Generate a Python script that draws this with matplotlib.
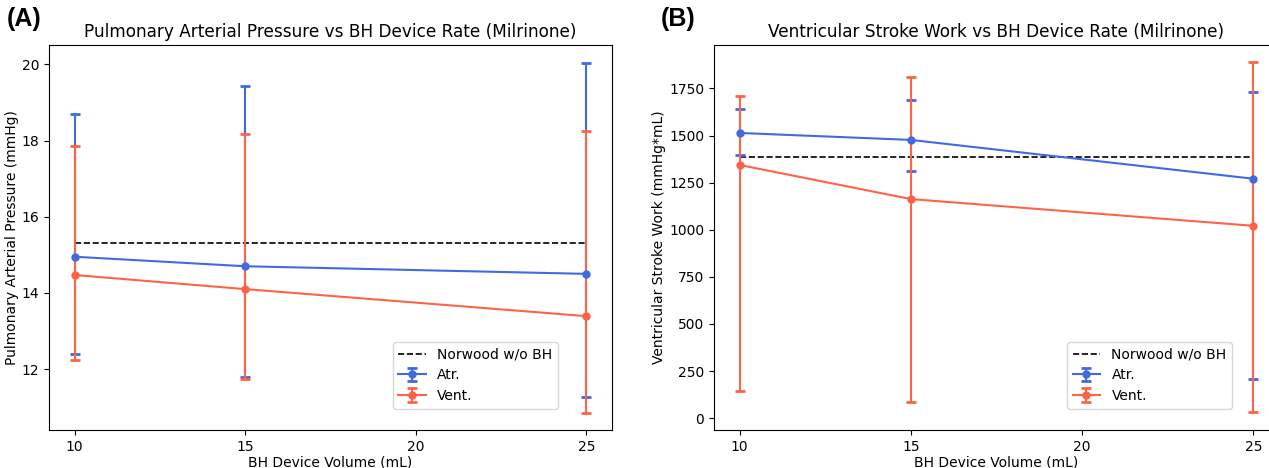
import matplotlib
matplotlib.use("Agg")
import matplotlib.pyplot as plt
import numpy as np

volumes = [10, 15, 25]

# panel A: pulmonary arterial pressure (mmHg)
pap_norwood = 15.30
pap_atr = [14.95, 14.70, 14.50]
pap_atr_lo = [12.40, 11.79, 11.28]
pap_atr_hi = [18.70, 19.44, 20.05]
pap_vent = [14.47, 14.10, 13.39]
pap_vent_lo = [12.23, 11.74, 10.86]
pap_vent_hi = [17.87, 18.18, 18.26]

# panel B: ventricular stroke work (mmHg*mL)
vsw_norwood = 1387
vsw_atr = [1514, 1477, 1271]
vsw_atr_lo = [1397, 1312, 206]
vsw_atr_hi = [1642, 1690, 1729]
vsw_vent = [1344, 1163, 1021]
vsw_vent_lo = [142, 85, 30]
vsw_vent_hi = [1711, 1812, 1888]

blue = "#4169E1"
red = "#FF6347"

fig = plt.figure(figsize=(12.69, 4.68), dpi=100)
W, H = 1269, 468
axA = fig.add_axes([49 / W, 1 - 430 / H, 563 / W, 385 / H])
axB = fig.add_axes([714 / W, 1 - 430 / H, 565 / W, 385 / H])


def panel(ax, norwood, atr, atr_lo, atr_hi, vent, vent_lo, vent_hi, title, ylabel, leg_x):
    atr = np.array(atr)
    vent = np.array(vent)
    ax.plot([volumes[0], volumes[-1]], [norwood, norwood], "k--", lw=1.2, label="Norwood w/o BH")
    ax.errorbar(volumes, atr, yerr=[atr - np.array(atr_lo), np.array(atr_hi) - atr],
                color=blue, marker="o", ms=5, capsize=3.5, capthick=2, lw=1.5, label="Atr.")
    ax.errorbar(volumes, vent, yerr=[vent - np.array(vent_lo), np.array(vent_hi) - vent],
                color=red, marker="o", ms=5, capsize=3.5, capthick=2, lw=1.5, label="Vent.")
    ax.set_xticks([10, 15, 20, 25])
    ax.set_title(title, fontsize=12.2)
    ax.set_xlabel("BH Device Volume (mL)", fontsize=10, labelpad=1)
    ax.set_ylabel(ylabel, fontsize=10, labelpad=2)
    ax.tick_params(labelsize=10)
    ax.legend(loc="lower right", bbox_to_anchor=(leg_x, 0.055), borderaxespad=0, fontsize=10)


panel(axA, pap_norwood, pap_atr, pap_atr_lo, pap_atr_hi, pap_vent, pap_vent_lo, pap_vent_hi,
      "Pulmonary Arterial Pressure vs BH Device Rate (Milrinone)", "Pulmonary Arterial Pressure (mmHg)", 0.904)
panel(axB, vsw_norwood, vsw_atr, vsw_atr_lo, vsw_atr_hi, vsw_vent, vsw_vent_lo, vsw_vent_hi,
      "Ventricular Stroke Work vs BH Device Rate (Milrinone)", "Ventricular Stroke Work (mmHg*mL)", 0.917)

fig.text(7 / W, 1 - 26 / H, "(A)", fontsize=18, fontweight="bold", family="Liberation Sans")
fig.text(661 / W, 1 - 26 / H, "(B)", fontsize=18, fontweight="bold", family="Liberation Sans")

fig.savefig("out.png", dpi=100)
